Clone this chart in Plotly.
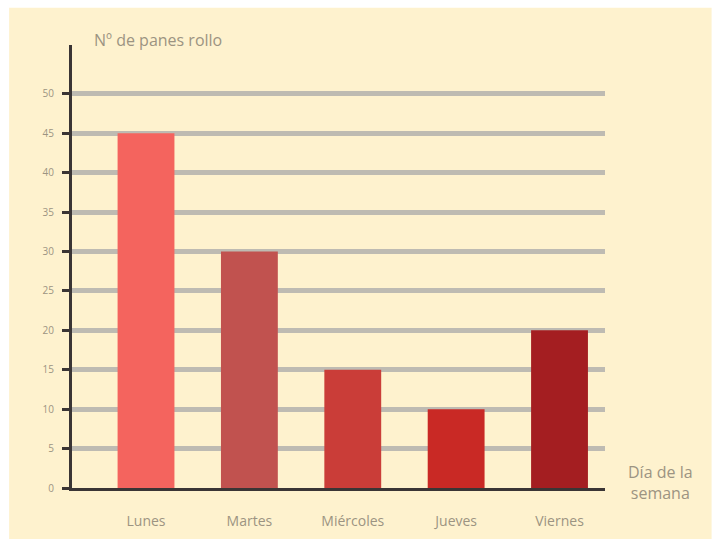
import plotly.graph_objects as go

dias = ["Lunes", "Martes", "Miércoles", "Jueves", "Viernes"]
panes = [45, 30, 15, 10, 20]
colores = ["#F4645E", "#C1524F", "#CA3D38", "#C92925", "#A41E21"]
ticks_y = [0, 5, 10, 15, 20, 25, 30, 35, 40, 45, 50]

fig = go.Figure()
fig.add_trace(go.Bar(x=dias, y=panes, marker=dict(color=colores, line=dict(width=0)), width=0.55))

txt = "#9C9482"
fig.update_layout(
    width=719, height=546,
    margin=dict(l=72, r=114, t=45, b=58),
    paper_bgcolor="white",
    plot_bgcolor="rgba(0,0,0,0)",
    showlegend=False,
    font=dict(family="Open Sans", color=txt),
    shapes=[dict(type="rect", xref="paper", yref="paper", x0=-0.118, x1=1.20, y0=-0.115, y1=1.084,
                 fillcolor="#FEF2CE", line=dict(width=0), layer="below")],
    annotations=[
        dict(text="Nº de panes rollo", xref="paper", yref="paper", x=(92-72)/533, y=(488-40)/443,
             xanchor="left", yanchor="middle", showarrow=False, font=dict(size=16, color=txt)),
        dict(text="Día de la<br>semana", xref="paper", yref="paper", x=(660-72)/533, y=(488-482)/443,
             xanchor="center", yanchor="middle", showarrow=False, align="center",
             font=dict(size=16, color=txt)),
    ],
)
fig.update_xaxes(range=[-0.716, 4.44], showline=True, linecolor="#3A3535", linewidth=3,
                 ticks="", tickfont=dict(size=14, color=txt), ticklabelstandoff=18, showgrid=False)
fig.update_yaxes(range=[0, 56.2], tickvals=ticks_y, showline=True, linecolor="#3A3535", linewidth=3,
                 ticks="outside", ticklen=7, tickwidth=3, tickcolor="#3A3535",
                 tickfont=dict(size=10, color=txt), ticklabelstandoff=6,
                 showgrid=True, gridcolor="#BEBBB2", gridwidth=5, zeroline=False)
fig.write_html("out.html")
